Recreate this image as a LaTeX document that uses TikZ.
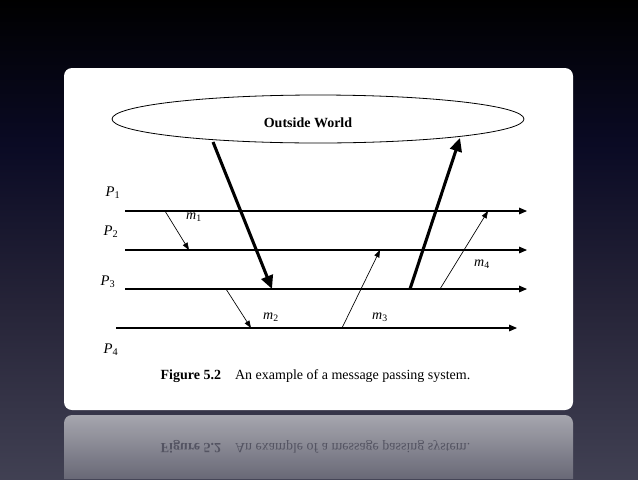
\documentclass[tikz,border=0pt]{standalone}
\usepackage{fontspec}
\setmainfont{Liberation Serif}
\usetikzlibrary{shapes.geometric,arrows.meta}

\definecolor{bgbot}{RGB}{94,94,112}
\definecolor{bglow}{RGB}{72,72,90}
\definecolor{bgmid}{RGB}{38,36,56}
\definecolor{bgnavy}{RGB}{10,10,36}
\definecolor{refltop}{RGB}{166,166,174}
\definecolor{reflbot}{RGB}{104,104,118}
\definecolor{refltext}{RGB}{84,84,98}
\pgfdeclareverticalshading{slidebg}{100bp}{color(0bp)=(bgbot); color(20bp)=(bglow); color(43bp)=(bgmid); color(60bp)=(bgnavy); color(75bp)=(black); color(100bp)=(black)}

\tikzset{
  procline/.style={line width=0.8pt, -{Triangle[length=6pt,width=5pt]}},
  msgline/.style={line width=0.5pt, -{Triangle[length=5.5pt,width=4pt]}},
  extline/.style={line width=2.3pt, -{Triangle[length=10pt,width=9pt]}},
  plabel/.style={font=\fontsize{11}{13}\selectfont\itshape},
  mlabel/.style={font=\fontsize{10.5}{12}\selectfont\itshape}
}

\begin{document}
\begin{tikzpicture}[x=0.75pt,y=0.75pt,yscale=-1,xscale=1]
\useasboundingbox (0,0) rectangle (638,479);

%Background
\shade [shading=slidebg] (0,0) rectangle (638,479);
%Slide card
\fill [white, rounded corners=6pt] (64,68) rectangle (573,410);
%Reflection of the card
\shade [top color=refltop, bottom color=reflbot] (64,479) {[rounded corners=6pt] -- (64,415) -- (573,415)} -- (573,479) -- cycle;

%Outside world
\draw (318,119) node (world) [ellipse, draw, line width=0.6pt, minimum width=309pt, minimum height=36pt, inner sep=0pt] {};
% Text Node
\draw (308,123) node (worldtxt) [font=\fontsize{10.5}{12}\selectfont\bfseries] {Outside World};

%Process lines
\coordinate (a1) at (125,211); \coordinate (b1) at (527,211);
\coordinate (a2) at (125,250); \coordinate (b2) at (527,250);
\coordinate (a3) at (125,289); \coordinate (b3) at (527,289);
\coordinate (a4) at (116,328); \coordinate (b4) at (517,328);
\foreach \i in {1,...,4} {
  \draw [procline] (a\i) -- (b\i);
}

%Message end points
\coordinate (s1) at (165,211); \coordinate (r1) at (189,250);
\coordinate (s2) at (226,289); \coordinate (r2) at (251,328);
\coordinate (s3) at (342,328); \coordinate (r3) at (380,250);
\coordinate (s4) at (440,289); \coordinate (r4) at (488,211);
\coordinate (wout) at (213,142); \coordinate (rin) at (272,289);
\coordinate (sout) at (410,289); \coordinate (win) at (460,138);

%Messages
\foreach \i in {1,...,4} {
  \draw [msgline] (s\i) -- (r\i);
}
%Input and output of the outside world
\draw [extline] (wout) -- (rin);
\draw [extline] (sout) -- (win);

% Text Node
\draw (113,193) node (lp1) [plabel] {P\textsubscript{\upshape 1}};
\draw (111,232) node (lp2) [plabel] {P\textsubscript{\upshape 2}};
\draw (108,282) node (lp3) [plabel] {P\textsubscript{\upshape 3}};
\draw (111,350) node (lp4) [plabel] {P\textsubscript{\upshape 4}};
% Text Node
\draw (194,217) node (lm1) [mlabel] {m\textsubscript{\upshape 1}};
\draw (271,317) node (lm2) [mlabel] {m\textsubscript{\upshape 2}};
\draw (380,317) node (lm3) [mlabel] {m\textsubscript{\upshape 3}};
\draw (482,264) node (lm4) [mlabel] {m\textsubscript{\upshape 4}};

% Caption
\draw (315.5,376) node (caption) [font=\fontsize{10.5}{12}\selectfont] {\textbf{Figure 5.2}\quad An example of a message passing system.};
% Caption reflection
\draw (315.5,447) node (captionrefl) [transform shape, text=refltext, font=\fontsize{10.5}{12}\selectfont] {\textbf{Figure 5.2}\quad An example of a message passing system.};

\end{tikzpicture}
\end{document}
